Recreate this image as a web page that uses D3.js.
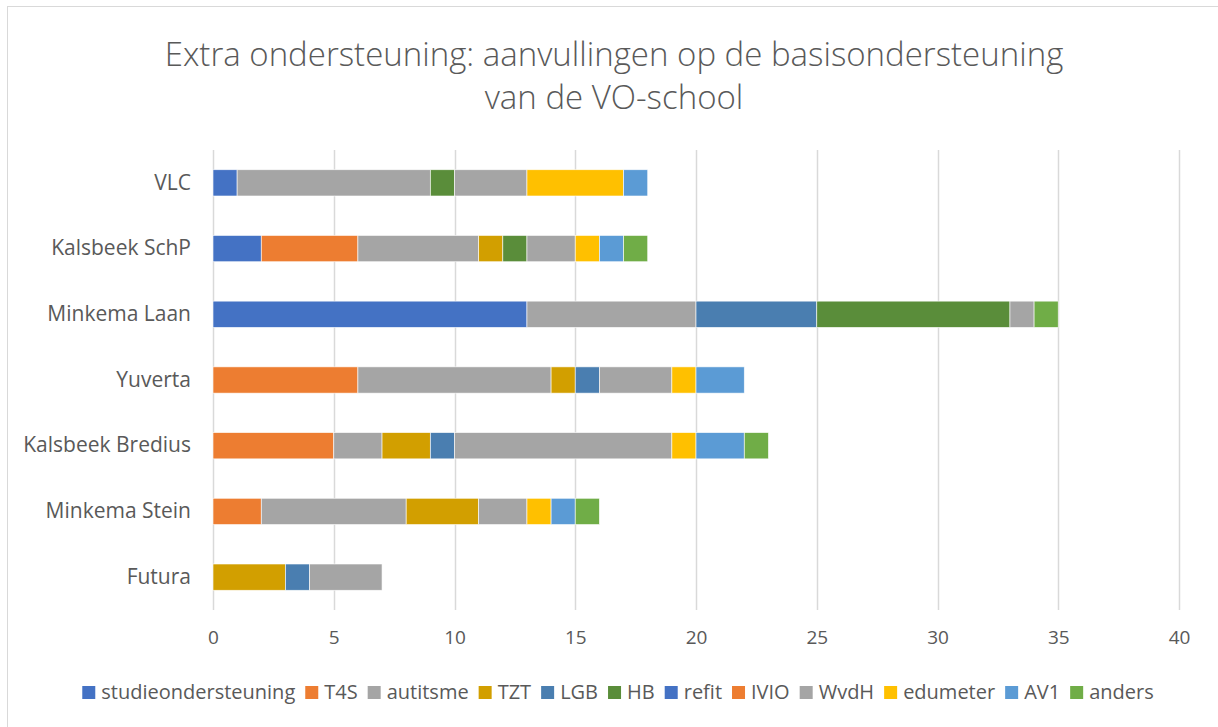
<!DOCTYPE html>
<html>
<head>
<meta charset="utf-8">
<script src="https://cdn.jsdelivr.net/npm/d3@7"></script>
<style>
  html, body { margin: 0; padding: 0; background: #fff; }
  svg text { font-family: "Open Sans", Lato, sans-serif; fill: #595959; }
</style>
</head>
<body>
<div id="chart"></div>
<script>
// stacked horizontal bar chart, Excel style
const schools = ["VLC", "Kalsbeek SchP", "Minkema Laan", "Yuverta", "Kalsbeek Bredius", "Minkema Stein", "Futura"];
const seriesNames = ["studieondersteuning", "T4S", "autitsme", "TZT", "LGB", "HB", "refit", "IVIO", "WvdH", "edumeter", "AV1", "anders"];
const seriesColors = ["#4472C4", "#ED7D31", "#A5A5A5", "#D29F00", "#4A7EB0", "#5A8D3A", "#4472C4", "#ED7D31", "#A5A5A5", "#FFC000", "#5B9BD5", "#70AD47"];

const studieondersteuning = [1, 2, 13, 0, 0, 0, 0];
const T4S      = [0, 4, 0, 6, 5, 2, 0];
const autitsme = [8, 5, 7, 8, 2, 6, 0];
const TZT      = [0, 1, 0, 1, 2, 3, 3];
const LGB      = [0, 0, 5, 1, 1, 0, 1];
const HB       = [1, 1, 8, 0, 0, 0, 0];
const refit    = [0, 0, 0, 0, 0, 0, 0];
const IVIO     = [0, 0, 0, 0, 0, 0, 0];
const WvdH     = [3, 2, 1, 3, 9, 2, 3];
const edumeter = [4, 1, 0, 1, 1, 1, 0];
const AV1      = [1, 1, 0, 2, 2, 1, 0];
const anders   = [0, 1, 1, 0, 1, 1, 0];
const seriesValues = [studieondersteuning, T4S, autitsme, TZT, LGB, HB, refit, IVIO, WvdH, edumeter, AV1, anders];

const xTicks = [0, 5, 10, 15, 20, 25, 30, 35, 40];
const titleLines = ["Extra ondersteuning: aanvullingen op de basisondersteuning", "van de VO-school"];

const W = 1218, H = 727;
const svg = d3.select("#chart").append("svg").attr("width", W).attr("height", H);

// chart frame (runs off the right and bottom edge)
svg.append("rect")
    .attr("x", 7.5).attr("y", 6.5)
    .attr("width", 1230).attr("height", 740)
    .attr("fill", "#fff")
    .attr("stroke", "#D9D9D9")
    .attr("stroke-width", 1);

// title
svg.append("g").selectAll("text")
    .data(titleLines)
    .enter().append("text")
    .attr("x", 614)
    .attr("y", (d, i) => 66 + i * 43)
    .attr("text-anchor", "middle")
    .style("font-size", "33px")
    .style("font-weight", 300)
    .text(d => d);

const plot = { left: 213, right: 1179, top: 150, bottom: 610 };

const x = d3.scaleLinear().domain([0, 40]).range([plot.left, plot.right]);
const y = d3.scaleBand().domain(schools).range([plot.top, plot.bottom]).paddingInner(0.6).paddingOuter(0.3);

// gridlines
svg.append("g").selectAll("line")
    .data(xTicks)
    .enter().append("line")
    .attr("x1", d => Math.round(x(d)) + 0.5)
    .attr("x2", d => Math.round(x(d)) + 0.5)
    .attr("y1", plot.top)
    .attr("y2", plot.bottom)
    .attr("stroke", "#D9D9D9")
    .attr("stroke-width", 1.5);

// stacked data
const rows = schools.map((s, i) => {
    const r = { school: s };
    seriesNames.forEach((n, k) => { r[n] = seriesValues[k][i]; });
    return r;
});
const stacked = d3.stack().keys(seriesNames)(rows);

svg.append("g").selectAll("g")
    .data(stacked)
    .enter().append("g")
    .attr("fill", (d, i) => seriesColors[i])
    .selectAll("rect")
    .data(d => d.filter(p => p[1] - p[0] > 0))
    .enter().append("rect")
    .attr("x", d => x(d[0]))
    .attr("y", d => y(d.data.school))
    .attr("width", d => x(d[1]) - x(d[0]))
    .attr("height", y.bandwidth())
    .attr("stroke", "#fff")
    .attr("stroke-width", 0.75)
    .attr("stroke-opacity", 0.8);

// x tick labels
const xAxis = svg.append("g")
    .attr("transform", `translate(0,${plot.bottom + 9})`)
    .call(d3.axisBottom(x).tickValues(xTicks).tickSize(0).tickPadding(12));
xAxis.select(".domain").remove();
xAxis.selectAll("text").style("font-size", "19px").attr("fill", "#595959");

// category labels
const yAxis = svg.append("g")
    .attr("transform", `translate(${plot.left - 22},0)`)
    .call(d3.axisLeft(y).tickSize(0).tickPadding(0));
yAxis.select(".domain").remove();
yAxis.selectAll("text").style("font-size", "21px").attr("fill", "#595959");

// legend
const legend = svg.append("g").attr("transform", "translate(0,692)");
const items = legend.selectAll("g")
    .data(seriesNames)
    .enter().append("g");
items.append("rect")
    .attr("y", -6)
    .attr("width", 13).attr("height", 13)
    .attr("fill", (d, i) => seriesColors[i]);
items.append("text")
    .attr("x", 19)
    .attr("dy", "0.35em")
    .style("font-size", "20px")
    .text(d => d);

const widths = [];
items.each(function () {
    widths.push(this.querySelector("text").getComputedTextLength() + 19);
});
const gap = 10;
const total = d3.sum(widths) + gap * (widths.length - 1);
let cursor = 618 - total / 2;
items.attr("transform", (d, i) => {
    const t = `translate(${cursor},0)`;
    cursor += widths[i] + gap;
    return t;
});
</script>
</body>
</html>
